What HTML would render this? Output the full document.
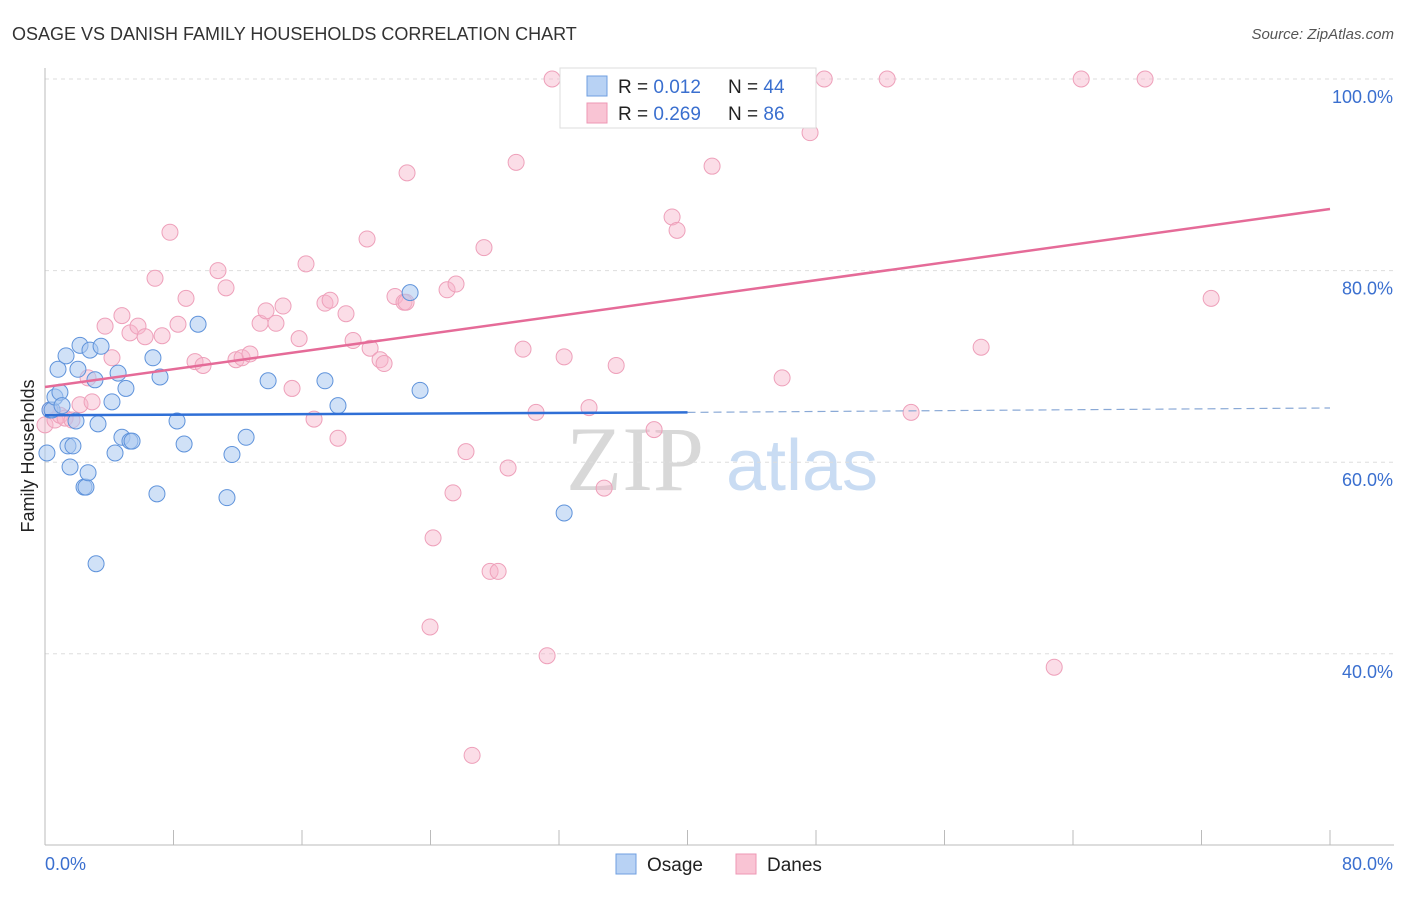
<!DOCTYPE html>
<html><head><meta charset="utf-8"><style>
body{margin:0;background:#fff;font-family:"Liberation Sans",sans-serif}
</style></head><body>
<svg id="chart" width="1406" height="892" xmlns="http://www.w3.org/2000/svg" font-family="Liberation Sans, sans-serif">
<text x="12" y="40" font-size="18" fill="#333">OSAGE VS DANISH FAMILY HOUSEHOLDS CORRELATION CHART</text>
<text x="1394" y="39" font-size="15" fill="#555" font-style="italic" text-anchor="end">Source: ZipAtlas.com</text>
<text transform="translate(34,456) rotate(-90)" font-size="18" fill="#222" text-anchor="middle">Family Households</text>
<g>
<text x="635" y="490" font-size="92" fill="#d8d8d8" font-family="Liberation Serif, serif" text-anchor="middle">ZIP</text>
<text x="802" y="490" font-size="72" fill="#c9dcf3" text-anchor="middle">atlas</text>
</g>
<g id="grid"></g><g id="axes"></g><g id="pts"></g><g id="lines"></g>
<g>
<rect x="560" y="68" width="256" height="60" fill="#fff" stroke="#ddd"/>
<rect x="587" y="76" width="20" height="20" fill="#b8d2f4" stroke="#6f9fe0"/>
<rect x="587" y="103" width="20" height="20" fill="#f9c4d4" stroke="#ee97b4"/>
<text x="618" y="93" font-size="19" fill="#222">R = <tspan fill="#3a6fcf">0.012</tspan></text>
<text x="728" y="93" font-size="19" fill="#222">N = <tspan fill="#3a6fcf">44</tspan></text>
<text x="618" y="120" font-size="19" fill="#222">R = <tspan fill="#3a6fcf">0.269</tspan></text>
<text x="728" y="120" font-size="19" fill="#222">N = <tspan fill="#3a6fcf">86</tspan></text>
</g>
<g>
<rect x="616" y="854" width="20" height="20" fill="#b8d2f4" stroke="#6f9fe0"/>
<text x="647" y="871" font-size="19" fill="#222">Osage</text>
<rect x="736" y="854" width="20" height="20" fill="#f9c4d4" stroke="#ee97b4"/>
<text x="767" y="871" font-size="19" fill="#222">Danes</text>
</g>
</svg>
<script>
const osageX=[0.12,0.31,0.44,0.62,0.81,0.93,1.06,1.31,1.43,1.56,1.74,1.93,2.05,2.18,2.43,2.55,2.68,2.8,3.11,3.18,3.3,3.49,4.17,4.36,4.55,4.79,5.04,5.29,5.42,6.72,6.97,7.16,8.22,8.66,9.53,11.33,11.64,12.52,13.89,17.43,18.24,22.73,23.35,32.32];
const osageY=[60.96,65.45,65.45,66.8,69.7,67.3,65.9,71.1,61.7,59.5,61.7,64.3,69.7,72.2,57.4,57.4,58.9,71.7,68.6,49.4,64.0,72.1,66.3,60.96,69.3,62.6,67.7,62.2,62.2,70.9,56.7,68.9,64.3,61.9,74.4,56.3,60.8,62.6,68.5,68.5,65.9,77.7,67.5,54.7];
const danesX=[0,0.31,0.62,0.93,1.25,1.68,2.18,2.68,2.93,3.74,4.17,4.79,5.29,5.79,6.23,6.85,7.29,7.78,8.28,8.78,9.34,9.84,10.77,11.27,11.89,12.27,12.76,13.39,13.76,14.38,14.82,15.38,15.82,16.25,16.75,17.43,17.75,18.24,18.74,19.18,20.05,20.24,20.86,21.11,21.79,22.35,22.54,23.97,24.16,25.03,25.4,25.59,26.21,27.33,27.71,28.21,28.83,29.33,29.76,30.57,31.26,31.57,32.32,33.87,34.81,35.56,37.92,38.29,39.04,39.35,41.53,44.52,45.89,47.63,48.51,52.43,53.92,58.28,62.83,64.51,68.49,72.6,26.59,38.92,22.48];
const danesY=[63.9,65.45,64.4,64.9,64.6,64.4,66.0,68.8,66.3,74.2,70.9,75.3,73.5,74.2,73.1,79.2,73.2,84.0,74.4,77.1,70.5,70.1,80.0,78.2,70.7,70.9,71.3,74.5,75.8,74.5,76.3,67.7,72.9,80.7,64.5,76.6,76.9,62.5,75.5,72.7,83.3,71.9,70.7,70.3,77.3,76.7,90.2,42.8,52.1,78.0,56.8,78.6,61.1,82.4,48.6,48.6,59.4,91.3,71.8,65.2,39.8,100,71.0,65.7,57.3,70.1,63.4,100,85.6,84.2,90.9,100,68.8,94.4,100,100,65.2,72.0,38.6,100,100,77.1,29.4,96.1,76.7];
const yTicks=[100,80,60,40];
const yTickLabels=["100.0%","80.0%","60.0%","40.0%"];
const xTickLabels=["0.0%","80.0%"];
const osageLine=[64.9,65.2,65.66]; // at x=0,40,80
const danesLine=[67.85,86.43]; // at x=0,80
const NS='http://www.w3.org/2000/svg';
const sx=v=>45+v*16.0625, sy=v=>79+(100-v)*9.58;
function mk(tag,attrs,parent){const e=document.createElementNS(NS,tag);for(const k in attrs)e.setAttribute(k,attrs[k]);document.getElementById(parent).appendChild(e);return e;}
yTicks.forEach((t,i)=>{
 const l=mk('line',{x1:45,x2:1394,y1:sy(t),y2:sy(t),stroke:'#ddd','stroke-dasharray':'4,4'},'grid');
 
 
 const tx=mk('text',{x:1393,y:sy(t)+24,'font-size':18,fill:'#3a6fcf','text-anchor':'end'},'grid');
 tx.textContent=yTickLabels[i];
 
 
});
const ax=mk('line',{x1:45,x2:1394,y1:845,y2:845,stroke:'#bbb'},'axes');


const ay=mk('line',{x1:45,x2:45,y1:68,y2:845,stroke:'#bbb'},'axes');


for(let i=0;i<=10;i++){const t=mk('line',{x1:sx(i*8),x2:sx(i*8),y1:830,y2:845,stroke:'#bbb'},'axes');
 
 }
[[0,'start',45],[80,'end',1393]].forEach((d,i)=>{const t=mk('text',{x:d[2],y:870,'font-size':18,fill:'#3a6fcf','text-anchor':d[1]},'axes');t.textContent=xTickLabels[i];
 
 });
danesX.forEach((x,i)=>{const c=mk('circle',{cx:sx(x),cy:sy(danesY[i]),r:8,fill:'rgba(246,180,202,0.45)',stroke:'#eea0ba','stroke-width':1},'pts');
 
 });
osageX.forEach((x,i)=>{const c=mk('circle',{cx:sx(x),cy:sy(osageY[i]),r:8,fill:'rgba(170,200,240,0.55)',stroke:'#5f93db','stroke-width':1},'pts');
 
 });
const l1=mk('line',{x1:sx(0),y1:sy(osageLine[0]),x2:sx(40),y2:sy(osageLine[1]),stroke:'#2f6fd6','stroke-width':2.5},'lines');


const l2=mk('line',{x1:sx(40),y1:sy(osageLine[1]),x2:sx(80),y2:sy(osageLine[2]),stroke:'#8aa9d6','stroke-width':1.2,'stroke-dasharray':'8,5'},'lines');


const l3=mk('line',{x1:sx(0),y1:sy(danesLine[0]),x2:sx(80),y2:sy(danesLine[1]),stroke:'#e56b98','stroke-width':2.5},'lines');


</script>
</body></html>
